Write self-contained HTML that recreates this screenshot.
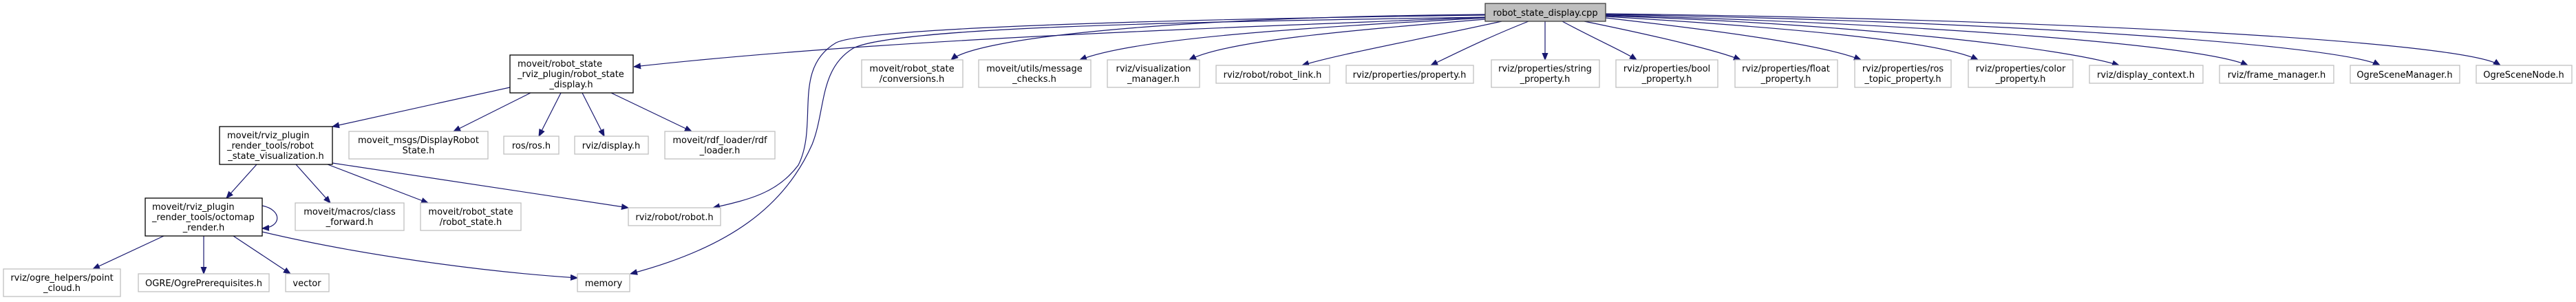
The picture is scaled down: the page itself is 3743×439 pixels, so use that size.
<!DOCTYPE html>
<html><head><meta charset="utf-8"><style>
html,body{margin:0;padding:0;background:#fff;}
svg{display:block;}
text{font-family:"DejaVu Sans","Liberation Sans",sans-serif;font-size:13px;fill:#000;}
.l{fill:#fff;stroke:#bfbfbf;stroke-width:1.3;}
.n{fill:#fff;stroke:#000;stroke-width:1.3;}
.e{fill:none;stroke:#191970;stroke-width:1.2;}
</style></head><body>
<svg width="3743" height="439" viewBox="0 0 3743 439" xmlns="http://www.w3.org/2000/svg">
<defs><marker id="a" viewBox="0 0 10 10" refX="10" refY="5" markerWidth="10" markerHeight="10" markerUnits="userSpaceOnUse" orient="auto"><path d="M0,1 L10,5 L0,9 z" fill="#191970" stroke="#191970"/></marker></defs>

<!-- edges from cpp -->
<g class="e" marker-end="url(#a)">
<path d="M2158,22 C1700,28 1260,40 1215,62 C1150,100 1190,180 1160,240 C1130,280 1090,290 1036,302" />
<path d="M2158,25 C1700,32 1300,40 1240,70 C1190,100 1200,160 1180,210 C1140,300 1060,360 916,398" />
<path d="M2158,25 C1800,40 1300,55 921,97" />
<path d="M2158,21 C1700,25 1420,55 1382,87" />
<path d="M2158,26 C1900,40 1650,55 1569,87" />
<path d="M2158,28 C1950,45 1780,60 1728,87" />
<path d="M2182,31 C2050,60 1940,80 1892,95" />
<path d="M2221,31 C2160,55 2110,80 2079,95" />
<path d="M2245,31 L2245,87" />
<path d="M2270,31 C2320,58 2360,75 2378,87" />
<path d="M2302,31 C2420,55 2500,75 2529,87" />
<path d="M2333,26 C2500,45 2650,65 2704,87" />
<path d="M2333,24 C2600,40 2820,60 2874,87" />
<path d="M2333,23 C2700,35 3000,70 3079,95" />
<path d="M2333,22 C2800,35 3200,65 3266,95" />
<path d="M2333,21 C2900,30 3400,65 3458,95" />
<path d="M2333,20 C3000,28 3580,60 3633,95" />
<!-- display.h -->
<path d="M741,127 L483,184" />
<path d="M771,135 L659,191" />
<path d="M815,135 L783,198" />
<path d="M846,135 L878,198" />
<path d="M888,135 L1005,191" />
<!-- vis.h -->
<path d="M373,239 L329,288" />
<path d="M430,239 L480,295" />
<path d="M476,239 L622,295" />
<path d="M483,237 L913,302" />
<!-- octomap -->
<path d="M381,299 C410,305 410,330 381,332" />
<path d="M238,343 L135,391" />
<path d="M296,343 L296,398" />
<path d="M339,343 L422,398" />
<path d="M381,337 C520,370 700,395 839,404" />
</g>

<!-- nodes -->
<rect x="2158" y="5" width="175" height="26" fill="#bfbfbf" stroke="#404040" stroke-width="1.3"/>
<text x="2245.5" y="23" text-anchor="middle">robot_state_display.cpp</text>

<rect class="n" x="741" y="80" width="179" height="55"/>
<text x="752" y="97">moveit/robot_state</text>
<text x="752" y="112">_rviz_plugin/robot_state</text>
<text x="830" y="127" text-anchor="middle">_display.h</text>

<rect class="n" x="319" y="184" width="164" height="55"/>
<text x="330" y="201">moveit/rviz_plugin</text>
<text x="330" y="216">_render_tools/robot</text>
<text x="401" y="231" text-anchor="middle">_state_visualization.h</text>

<rect class="n" x="211" y="288" width="170" height="55"/>
<text x="221" y="305">moveit/rviz_plugin</text>
<text x="221" y="320">_render_tools/octomap</text>
<text x="296" y="335" text-anchor="middle">_render.h</text>

<g text-anchor="middle">
<rect class="l" x="507" y="191" width="202" height="40"/><text x="608" y="208">moveit_msgs/DisplayRobot</text><text x="608" y="223">State.h</text>
<rect class="l" x="732" y="198" width="80" height="26"/><text x="772" y="216">ros/ros.h</text>
<rect class="l" x="835" y="198" width="107" height="26"/><text x="888" y="216">rviz/display.h</text>
<rect class="l" x="966" y="191" width="160" height="40"/><text x="1046" y="208">moveit/rdf_loader/rdf</text><text x="1046" y="223">_loader.h</text>

<rect class="l" x="429" y="295" width="158" height="40"/><text x="508" y="312">moveit/macros/class</text><text x="508" y="327">_forward.h</text>
<rect class="l" x="611" y="295" width="146" height="40"/><text x="684" y="312">moveit/robot_state</text><text x="684" y="327">/robot_state.h</text>
<rect class="l" x="913" y="302" width="134" height="26"/><text x="980" y="320">rviz/robot/robot.h</text>

<rect class="l" x="5" y="391" width="170" height="40"/><text x="90" y="408">rviz/ogre_helpers/point</text><text x="90" y="423">_cloud.h</text>
<rect class="l" x="201" y="398" width="190" height="26"/><text x="296" y="416">OGRE/OgrePrerequisites.h</text>
<rect class="l" x="415" y="398" width="63" height="26"/><text x="446" y="416">vector</text>
<rect class="l" x="839" y="398" width="76" height="26"/><text x="877" y="416">memory</text>

<rect class="l" x="1252" y="87" width="147" height="40"/><text x="1325" y="104">moveit/robot_state</text><text x="1325" y="119">/conversions.h</text>
<rect class="l" x="1422" y="87" width="163" height="40"/><text x="1503" y="104">moveit/utils/message</text><text x="1503" y="119">_checks.h</text>
<rect class="l" x="1609" y="87" width="134" height="40"/><text x="1676" y="104">rviz/visualization</text><text x="1676" y="119">_manager.h</text>
<rect class="l" x="1767" y="95" width="165" height="26"/><text x="1849" y="113">rviz/robot/robot_link.h</text>
<rect class="l" x="1956" y="95" width="185" height="26"/><text x="2048" y="113">rviz/properties/property.h</text>
<rect class="l" x="2167" y="87" width="157" height="40"/><text x="2245" y="104">rviz/properties/string</text><text x="2245" y="119">_property.h</text>
<rect class="l" x="2348" y="87" width="148" height="40"/><text x="2422" y="104">rviz/properties/bool</text><text x="2422" y="119">_property.h</text>
<rect class="l" x="2521" y="87" width="149" height="40"/><text x="2595" y="104">rviz/properties/float</text><text x="2595" y="119">_property.h</text>
<rect class="l" x="2695" y="87" width="140" height="40"/><text x="2765" y="104">rviz/properties/ros</text><text x="2765" y="119">_topic_property.h</text>
<rect class="l" x="2860" y="87" width="152" height="40"/><text x="2936" y="104">rviz/properties/color</text><text x="2936" y="119">_property.h</text>
<rect class="l" x="3036" y="95" width="165" height="26"/><text x="3118" y="113">rviz/display_context.h</text>
<rect class="l" x="3225" y="95" width="166" height="26"/><text x="3308" y="113">rviz/frame_manager.h</text>
<rect class="l" x="3415" y="95" width="159" height="26"/><text x="3494" y="113">OgreSceneManager.h</text>
<rect class="l" x="3598" y="95" width="139" height="26"/><text x="3667" y="113">OgreSceneNode.h</text>
</g>
</svg>
</body></html>
